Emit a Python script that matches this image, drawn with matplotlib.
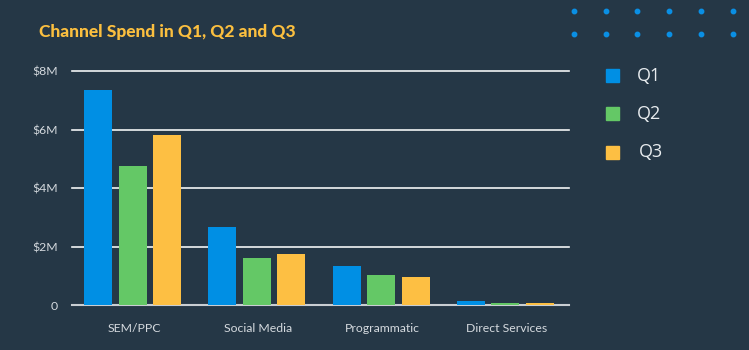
import matplotlib
matplotlib.use("Agg")
import matplotlib.pyplot as plt
import numpy as np

categories = ["SEM/PPC", "Social Media", "Programmatic", "Direct Services"]
series_names = ["Q1", "Q2", "Q3"]
q1 = [7.36, 2.68, 1.34, 0.15]
q2 = [4.76, 1.62, 1.03, 0.09]
q3 = [5.82, 1.75, 0.96, 0.09]
yticks = [0, 2, 4, 6, 8]
ytick_labels = ["0", "$2M", "$4M", "$6M", "$8M"]
title = "Channel Spend in Q1, Q2 and Q3"

BG = "#253746"
colors = ["#008FE4", "#64C866", "#FDBF43"]
TXT = "#D5DADF"

fig = plt.figure(figsize=(7.49, 3.5), dpi=100)
fig.patch.set_facecolor(BG)
W, H = 749, 350
ax = fig.add_axes([72 / W, (H - 305.3) / H, (569 - 72) / W, (305.3 - 71.3) / H])
ax.set_facecolor(BG)

x = np.arange(len(categories))
bw = 0.225
off = 0.278
for i, (vals, c) in enumerate(zip([q1, q2, q3], colors)):
    ax.bar(x + (i - 1) * off - 0.012, vals, width=bw, color=c, zorder=3, label=series_names[i])

ax.set_xlim(-0.5, 3.5)
ax.set_ylim(0, 8)
for s in ax.spines.values():
    s.set_visible(False)
for v in yticks[1:]:
    ax.axhline(v, color="#F2F4F5", lw=1.2, zorder=1, clip_on=False)
ax.axhline(0, color="#C9CED3", lw=1.5, zorder=2, clip_on=False)

ax.set_yticks(yticks)
ax.set_yticklabels(ytick_labels, fontsize=8.8, color=TXT, family="Lato")
ax.tick_params(axis="y", length=0, pad=10)
ax.set_xticks(x)
ax.set_xticklabels(categories, fontsize=8.8, color=TXT, family="Lato")
ax.tick_params(axis="x", length=0, pad=13)

fig.text(39 / W, 1 - 32 / H, title, fontsize=12.5, fontweight="black", family="Lato",
         color="#FBBF3F", va="center", ha="left")

# decorative dots
dot_x = [573.7, 605.7, 637.3, 669.3, 701.3, 733.3]
dot_y = [10.7, 34.0]
for yy in dot_y:
    fig.add_artist(plt.Line2D([xx / W for xx in dot_x], [1 - yy / H] * len(dot_x),
                              lw=0, marker="o", ms=3.2, color="#0A8FE4",
                              transform=fig.transFigure))

# legend
leg_y = [75.5, 113.5, 152]
leg_tx = [637, 637, 639]
for name, c, yy, tx in zip(series_names, colors, leg_y, leg_tx):
    fig.patches.append(plt.Rectangle((606 / W, 1 - (yy + 6.5) / H), 13 / W, 13 / H,
                                     color=c, transform=fig.transFigure))
    fig.text(tx / W, 1 - yy / H, name, fontsize=13, color="#E8ECEF",
             family="Open Sans", va="center", ha="left")

fig.savefig("out.png", dpi=100, facecolor=BG)
